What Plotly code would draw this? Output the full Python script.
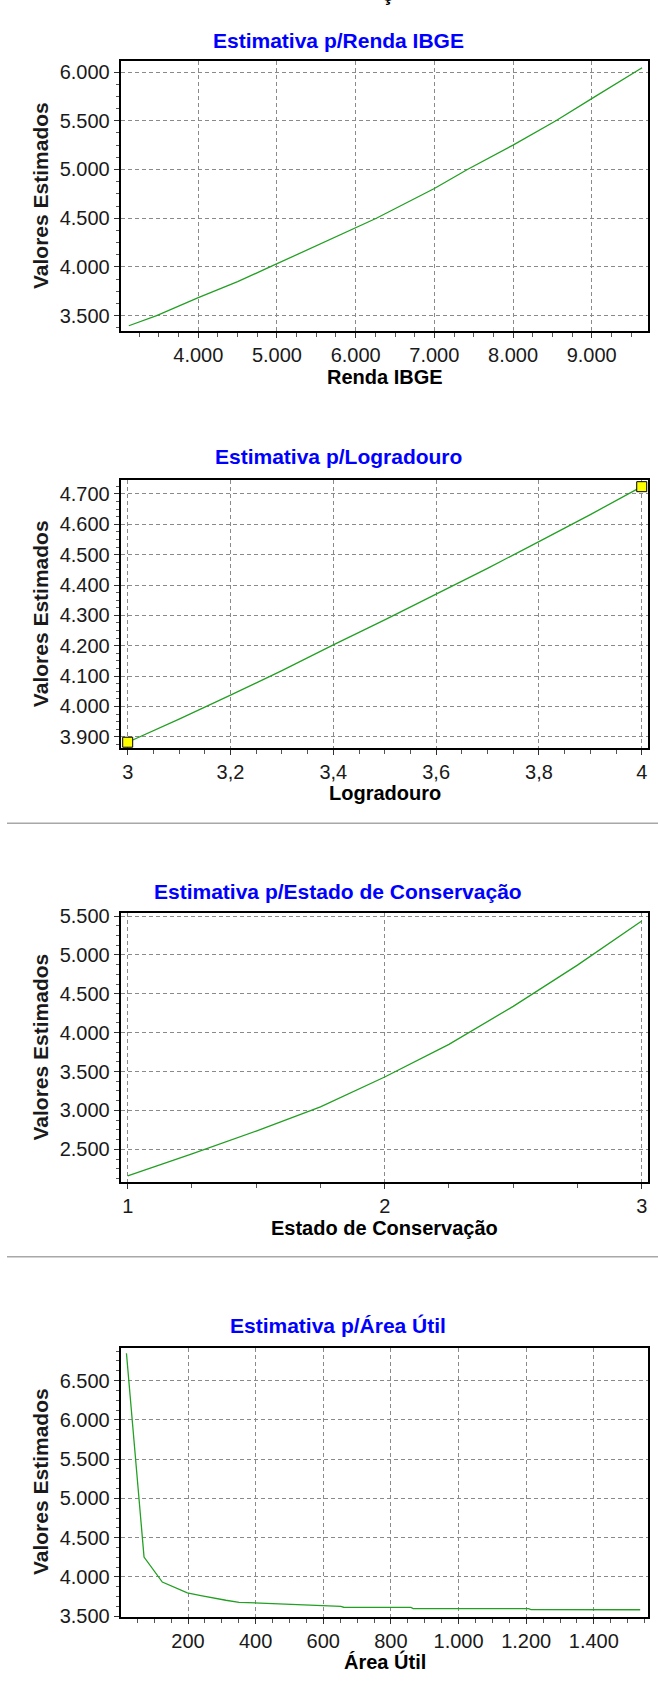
import plotly.graph_objects as go

# ---------------- data ----------------
renda_x = [3117, 3471, 4000, 4500, 4911, 5500, 6263, 7000, 7420, 8000, 8545, 9000, 9640]
renda_y = [3397, 3500, 3686, 3850, 4000, 4218, 4500, 4805, 5000, 5250, 5500, 5727, 6043]

lograd_x = [3.0, 3.1, 3.2, 3.3, 3.4, 3.5, 3.6, 3.7, 3.8, 3.9, 4.0]
lograd_y = [3882, 3958, 4037, 4118, 4203, 4285, 4370, 4455, 4543, 4632, 4724]

estado_x = [1.0, 1.25, 1.5, 1.75, 2.0, 2.25, 2.5, 2.75, 3.0]
estado_y = [2157, 2440, 2734, 3045, 3430, 3850, 4338, 4868, 5436]

area_x = [18, 70, 124, 198, 238, 287, 312, 351, 400, 450, 553, 652, 660, 859, 866, 1207, 1214, 1537]
area_y = [6849, 4254, 3936, 3798, 3763, 3721, 3704, 3678, 3670, 3658, 3640, 3627, 3615, 3612, 3598, 3596, 3585, 3583]

chart_titles = ["Estimativa p/Renda IBGE", "Estimativa p/Logradouro",
                "Estimativa p/Estado de Conservação", "Estimativa p/Área Útil"]
x_titles = ["Renda IBGE", "Logradouro", "Estado de Conservação", "Área Útil"]
y_title = "Valores Estimados"

# ---------------- layout helpers ----------------
W, H = 658, 1685
def px(x):
    return x / W
def py(y):
    return 1 - y / H

FONT = "Liberation Sans, Arial, sans-serif"
LINE_GREEN = "#23a023"
GRID = "#8a8a8a"

plot_left, plot_right = 120.7, 648.3
boxes = [(61, 331), (480, 748.3), (913.3, 1181.7), (1347.7, 1616.5)]
title_y = [41, 456.7, 891.7, 1325]
xtitle_y = [377, 793.3, 1228, 1661.7]

axis_specs = [
    dict(xr=[3014, 9719], xd=1000, xm=250, xf=",d", yr=[3343, 6113], yd=500, ym=125),
    dict(xr=[2.9864, 4.0128], xd=0.2, xm=0.05, xf="", yr=[3862, 4746], yd=100, ym=25),
    dict(xr=[0.9728, 3.0257], xd=1, xm=0.25, xf="", yr=[2083, 5535], yd=500, ym=125),
    dict(xr=[1, 1561], xd=200, xm=50, xf=",d", yr=[3497, 6919], yd=500, ym=125),
]

series = [(renda_x, renda_y), (lograd_x, lograd_y), (estado_x, estado_y), (area_x, area_y)]

fig = go.Figure()
layout_axes = {}
annotations = []

for i, ((xs, ys), spec, (top, bot)) in enumerate(zip(series, axis_specs, boxes)):
    n = i + 1
    xa = "x" if n == 1 else f"x{n}"
    ya = "y" if n == 1 else f"y{n}"
    fig.add_trace(go.Scatter(
        x=xs, y=ys, mode="lines", xaxis=xa, yaxis=ya,
        line=dict(color=LINE_GREEN, width=1.3), showlegend=False,
        hoverinfo="x+y"))
    common = dict(
        showline=True, linecolor="black", linewidth=2, mirror=True,
        ticks="outside", ticklen=5, tickwidth=1, tickcolor="#333333",
        showgrid=True, gridcolor=GRID, gridwidth=1, griddash="4px,3px",
        zeroline=False, tickfont=dict(family=FONT, size=20, color="#1a1a1a"),
    )
    layout_axes[f"xaxis{'' if n == 1 else n}"] = dict(
        common, domain=[px(plot_left), px(plot_right)], anchor=ya,
        range=spec["xr"], tick0=0, dtick=spec["xd"], tickformat=spec["xf"],
        minor=dict(dtick=spec["xm"], tick0=0, ticks="outside", ticklen=4,
                   tickcolor="#555555", showgrid=False),
    )
    layout_axes[f"yaxis{'' if n == 1 else n}"] = dict(
        common, domain=[py(bot), py(top)], anchor=xa,
        range=spec["yr"], tick0=0, dtick=spec["yd"], tickformat=",d",
        minor=dict(dtick=spec["ym"], tick0=0, ticks="outside", ticklen=3,
                   tickcolor="#555555", showgrid=False),
    )
    annotations.append(dict(
        text=chart_titles[i], x=px(338), y=py(title_y[i]), xref="paper", yref="paper",
        xanchor="center", yanchor="middle", showarrow=False,
        font=dict(family=FONT, size=21, color="#0000ff", weight="bold")))
    annotations.append(dict(
        text=x_titles[i], x=px((plot_left + plot_right) / 2), y=py(xtitle_y[i]),
        xref="paper", yref="paper", xanchor="center", yanchor="middle", showarrow=False,
        font=dict(family=FONT, size=20, color="black", weight="bold")))
    annotations.append(dict(
        text=y_title, x=px(40), y=py((top + bot) / 2), xref="paper", yref="paper",
        xanchor="center", yanchor="middle", showarrow=False, textangle=-90,
        font=dict(family=FONT, size=21, color="#1a1a1a", weight="bold")))

# end-point markers for Logradouro
fig.add_trace(go.Scatter(
    x=[lograd_x[0], lograd_x[-1]], y=[lograd_y[0], lograd_y[-1]],
    mode="markers", xaxis="x2", yaxis="y2", showlegend=False, cliponaxis=False,
    marker=dict(symbol="square", size=10, color="#ffff00",
                line=dict(color="black", width=1))))

# clipped heading fragment at the very top of the page
annotations.append(dict(
    text="ç", x=px(388), y=py(7), xref="paper", yref="paper",
    xanchor="center", yanchor="bottom", showarrow=False,
    font=dict(family=FONT, size=21, color="black", weight="bold")))

shapes = [
    dict(type="line", xref="paper", yref="paper", x0=px(7), x1=px(658),
         y0=py(823.3), y1=py(823.3), line=dict(color="#a8a8a8", width=1.5)),
    dict(type="line", xref="paper", yref="paper", x0=px(7), x1=px(658),
         y0=py(1256.7), y1=py(1256.7), line=dict(color="#a8a8a8", width=1.5)),
]

fig.update_layout(
    width=W, height=H, margin=dict(l=0, r=0, t=0, b=0, autoexpand=False),
    paper_bgcolor="white", plot_bgcolor="white", separators=",.",
    font=dict(family=FONT, size=20, color="black"),
    annotations=annotations, shapes=shapes, showlegend=False,
    **layout_axes,
)

fig.write_html(
    "out.html",
    config={"displayModeBar": False},
    post_script="document.body.style.margin='0px';document.body.style.overflow='hidden';",
)
